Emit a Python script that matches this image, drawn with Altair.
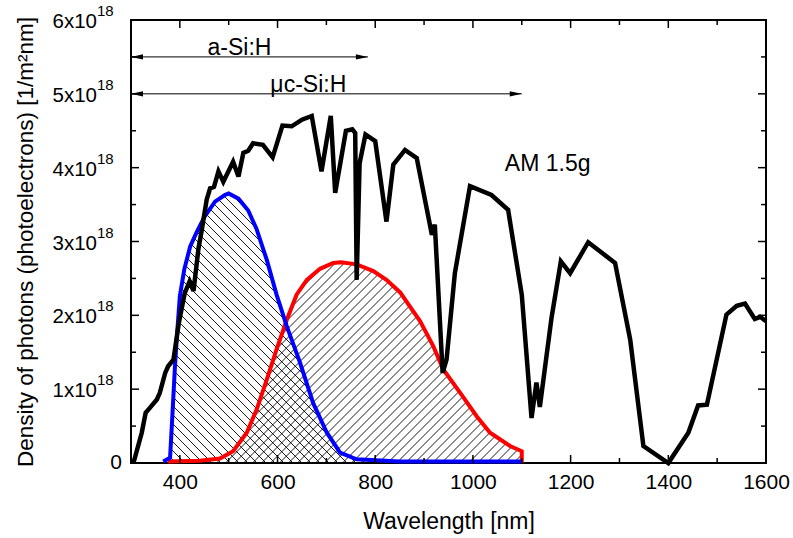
import numpy as np
import pandas as pd
import altair as alt

# ---------------- data (values in units of 1e18 photons / m^2 nm) ----------------
am_wl = [305, 322, 330, 339, 353, 359, 370, 376, 387, 398, 410, 420, 428, 438, 445, 455,
         462, 470, 479, 489, 509, 520, 530, 540, 550, 570, 590, 610, 629, 650, 670, 690,
         709, 718, 740, 753, 759, 762, 768, 780, 800, 823, 837, 861, 885, 916, 922, 938,
         946, 963, 994, 1038, 1072, 1100, 1120, 1130, 1137, 1161, 1180, 1199, 1236, 1291,
         1322, 1349, 1400, 1441, 1461, 1479, 1519, 1540, 1557, 1577, 1588, 1600]
am_val = [0.00, 0.41, 0.68, 0.75, 0.86, 0.95, 1.22, 1.31, 1.40, 1.90, 2.30, 2.46, 2.33, 2.90,
          3.16, 3.57, 3.72, 3.74, 3.95, 3.81, 4.08, 3.88, 4.20, 4.23, 4.33, 4.31, 4.14, 4.57,
          4.56, 4.65, 4.70, 3.95, 4.70, 3.66, 4.50, 4.52, 4.47, 2.48, 4.06, 4.45, 4.36, 3.27,
          4.04, 4.24, 4.13, 3.09, 3.23, 1.22, 1.40, 2.57, 3.75, 3.63, 3.43, 2.28, 0.61, 1.09,
          0.76, 1.97, 2.73, 2.57, 2.99, 2.71, 1.67, 0.23, 0.00, 0.41, 0.78, 0.79, 2.01, 2.13,
          2.16, 1.95, 1.98, 1.92]

asi_wl = [366, 380, 385, 390, 395, 400, 409, 421, 434, 451, 472, 492, 500, 520, 540, 557,
          578, 598, 619, 646, 673, 701, 728, 762, 850, 1100]
asi_val = [0.02, 0.07, 0.68, 1.31, 1.81, 2.26, 2.62, 2.93, 3.12, 3.34, 3.54, 3.63, 3.65, 3.58,
           3.42, 3.17, 2.75, 2.28, 1.85, 1.36, 0.81, 0.41, 0.14, 0.05, 0.02, 0.02]

mcsi_wl = [375, 441, 482, 509, 537, 557, 578, 598, 619, 639, 660, 687, 714, 730, 762, 796,
           823, 851, 892, 919, 939, 974, 1008, 1035, 1076, 1100, 1100]
mcsi_val = [0.02, 0.03, 0.06, 0.16, 0.41, 0.72, 1.13, 1.54, 1.94, 2.28, 2.48, 2.63, 2.71, 2.72,
            2.69, 2.60, 2.48, 2.31, 1.92, 1.58, 1.27, 0.95, 0.63, 0.41, 0.23, 0.16, 0.00]

arrow_labels = ["a-Si:H", "μc-Si:H"]
arrow_start = [300, 300]
arrow_end = [785, 1100]
arrow_level = [5.5, 5.0]
arrow_text_x = [522, 663]
arrow_text_y = [5.5, 5.0]

x_label_values = [400, 600, 800, 1000, 1200, 1400, 1600]
y_label_values = [1, 2, 3, 4, 5, 6]
x_major = [400, 600, 800, 1000, 1200, 1400]
x_minor = [500, 700, 900, 1100, 1300, 1500]
y_major = [1, 2, 3, 4, 5]
y_minor = [0.5, 1.5, 2.5, 3.5, 4.5, 5.5]

# ---------------- layout ----------------
W, H = 635, 443
XMIN, XMAX = 300, 1600
YMIN, YMAX = 0, 6
FONT = "Liberation Sans"

xscale = alt.Scale(domain=[XMIN, XMAX], nice=False, zero=False)
yscale = alt.Scale(domain=[YMIN, YMAX], nice=False, zero=False)
xaxis = alt.Axis(values=x_label_values, format="d", labelFontSize=21, labelFont=FONT,
                 labelColor="black", ticks=False, domain=False, grid=False, labelPadding=8,
                 labelFlush=False, labelOverlap=False,
                 title="Wavelength [nm]", titleFont=FONT, titleFontSize=23,
                 titleFontWeight="normal", titleColor="black", titlePadding=18)
yaxis = alt.Axis(labels=False, ticks=False, domain=False, grid=False,
                 title="Density of photons (photoelectrons) [1/m²nm]", titleFont=FONT,
                 titleFontSize=22.5, titleFontWeight="normal", titleColor="black",
                 titleX=-106, titleY=H / 2, titleBaseline="middle", titleAngle=270,
                 titleAlign="center")


def X(f):
    return alt.X(f"{f}:Q", scale=xscale, axis=xaxis)


def Y(f):
    return alt.Y(f"{f}:Q", scale=yscale, axis=yaxis)


# ---------------- hatch geometry derived from the curves ----------------
def hatch(wl, val, direction, spacing=9.0, offset=0.0):
    kx = W / (XMAX - XMIN)
    ky = H / (YMAX - YMIN)
    PX = (np.asarray(wl, float) - XMIN) * kx
    PY = np.asarray(val, float) * ky
    xs = np.arange(PX.min(), PX.max() + 1e-6, 0.2)
    top = np.interp(xs, PX, PY)
    rows = []
    if direction < 0:
        dmin, dmax = PX.min(), PX.max() + PY.max()
    else:
        dmin, dmax = PX.min() - PY.max(), PX.max()
    d = np.floor(dmin / spacing) * spacing + offset
    while d <= dmax + spacing:
        yl = d - xs if direction < 0 else xs - d
        inside = (yl >= 0) & (yl <= top)
        if inside.any():
            idx = np.flatnonzero(inside)
            breaks = np.flatnonzero(np.diff(idx) > 1)
            starts = np.concatenate([[idx[0]], idx[breaks + 1]])
            ends = np.concatenate([idx[breaks], [idx[-1]]])
            for s, e in zip(starts, ends):
                if e - s < 2:
                    continue
                rows.append({"hx": XMIN + xs[s] / kx, "hy": yl[s] / ky,
                             "hx2": XMIN + xs[e] / kx, "hy2": yl[e] / ky})
        d += spacing
    return pd.DataFrame(rows)


hatch_blue = hatch(asi_wl, asi_val, -1, 9.0, 0.0)
hatch_red = hatch(mcsi_wl[:-1], mcsi_val[:-1], 1, 9.0, 4.5)
hatch_df = pd.concat([hatch_blue, hatch_red], ignore_index=True)

am_df = pd.DataFrame({"x": am_wl, "y": am_val, "i": range(len(am_wl))})
asi_df = pd.DataFrame({"x": asi_wl, "y": asi_val, "i": range(len(asi_wl))})
mcsi_df = pd.DataFrame({"x": mcsi_wl, "y": mcsi_val, "i": range(len(mcsi_wl))})
arrows_df = pd.DataFrame({"x": arrow_start, "x2": arrow_end, "y": arrow_level,
                          "lab": arrow_labels, "tx": arrow_text_x, "ty": arrow_text_y})

hatch_layer = alt.Chart(hatch_df).mark_rule(color="black", strokeWidth=0.9).encode(
    x=X("hx"), y=Y("hy"), x2="hx2", y2="hy2")

red_line = alt.Chart(mcsi_df).mark_line(color="#ff0000", strokeWidth=4).encode(
    x=X("x"), y=Y("y"), order="i:Q")
blue_line = alt.Chart(asi_df).mark_line(color="#0000ff", strokeWidth=4).encode(
    x=X("x"), y=Y("y"), order="i:Q")
am_line = alt.Chart(am_df).mark_line(color="black", strokeWidth=4.5, strokeJoin="miter",
                                     strokeMiterLimit=3).encode(
    x=X("x"), y=Y("y"), order="i:Q")

arrow_rule = alt.Chart(arrows_df).mark_rule(color="black", strokeWidth=1).encode(
    x=X("x"), x2="x2", y=Y("y"))
head_r = alt.Chart(arrows_df).mark_point(shape="M0,0L-2,-0.45L-2,0.45Z", size=144,
                                         filled=True, color="black", opacity=1,
                                         strokeWidth=0).encode(x=X("x2"), y=Y("y"))
head_l = alt.Chart(arrows_df).mark_point(shape="M0,0L2,-0.45L2,0.45Z", size=144,
                                         filled=True, color="black", opacity=1,
                                         strokeWidth=0).encode(x=X("x"), y=Y("y"))
arrow_text = alt.Chart(arrows_df).mark_text(font=FONT, fontSize=23, color="black",
                                            align="center", baseline="alphabetic",
                                            dy=-2).encode(
    x=X("tx"), y=Y("ty"), text="lab:N")

am_text = alt.Chart(pd.DataFrame({"x": [1153], "y": [3.95], "t": ["AM 1.5g"]})).mark_text(
    font=FONT, fontSize=23, color="black", align="center", baseline="alphabetic").encode(
    x=X("x"), y=Y("y"), text="t:N")

# y tick labels with superscripts
ylab_df = pd.DataFrame({"y": y_label_values,
                        "main": [f"{v}x10" for v in y_label_values],
                        "sup": ["18"] * len(y_label_values)})
ylab_main = alt.Chart(ylab_df).mark_text(font=FONT, fontSize=20.5, color="black",
                                         align="right", baseline="alphabetic", dy=8).encode(
    x=alt.value(-34), y=Y("y"), text="main:N")
ylab_sup = alt.Chart(ylab_df).mark_text(font=FONT, fontSize=15, color="black",
                                        align="left", baseline="alphabetic", dy=-4).encode(
    x=alt.value(-34), y=Y("y"), text="sup:N")
ylab_zero = alt.Chart(pd.DataFrame({"y": [0], "t": ["0"]})).mark_text(
    font=FONT, fontSize=21, color="black", align="right", baseline="alphabetic", dy=6).encode(
    x=alt.value(-9), y=Y("y"), text="t:N")

# inward ticks on all four sides
def xticks(vals, length):
    df = pd.DataFrame({"x": vals})
    b = alt.Chart(df).mark_rule(color="black", strokeWidth=1.5).encode(
        x=X("x"), y=alt.value(H), y2=alt.value(H - length))
    t = alt.Chart(df).mark_rule(color="black", strokeWidth=1.5).encode(
        x=X("x"), y=alt.value(0), y2=alt.value(length))
    return [b, t]


def yticks(vals, length):
    df = pd.DataFrame({"y": vals})
    l = alt.Chart(df).mark_rule(color="black", strokeWidth=1.5).encode(
        y=Y("y"), x=alt.value(0), x2=alt.value(length))
    r = alt.Chart(df).mark_rule(color="black", strokeWidth=1.5).encode(
        y=Y("y"), x=alt.value(W), x2=alt.value(W - length))
    return [l, r]


layers = [hatch_layer, red_line, blue_line, am_line, arrow_rule, head_r, head_l,
          arrow_text, am_text, ylab_main, ylab_sup, ylab_zero]
layers += xticks(x_major, 8) + xticks(x_minor, 5) + yticks(y_major, 8) + yticks(y_minor, 5)

chart = alt.layer(*layers).properties(
    width=W, height=H,
    autosize=alt.AutoSizeParams(type="none"),
    padding={"left": 131, "top": 20, "right": 27, "bottom": 75},
    background="white",
).configure_view(stroke="black", strokeWidth=2)

chart.save("out.html", embed_options={"renderer": "svg", "actions": False})
